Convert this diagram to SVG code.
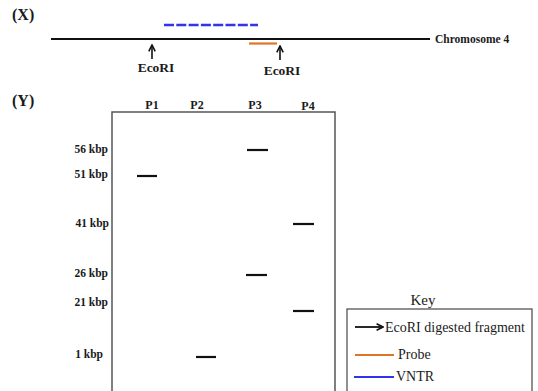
<svg xmlns="http://www.w3.org/2000/svg" width="538" height="391" viewBox="0 0 538 391">
<defs>
<style>
.b{font-family:"Liberation Serif","Times New Roman",serif;font-weight:bold;fill:#1a1a1a}
.n{font-family:"Liberation Serif","Times New Roman",serif;fill:#1a1a1a}
.band{stroke:#111;stroke-width:2.2}
</style>
<marker id="ah" viewBox="0 0 10 10" refX="9" refY="5" markerWidth="8" markerHeight="8" orient="auto" markerUnits="userSpaceOnUse">
<path d="M1,1 L9,5 L1,9" fill="none" stroke="#111" stroke-width="2"/>
</marker>
</defs>
<rect width="538" height="391" fill="#fff"/>
<g id="panel-x">
<text class="b" x="12" y="20" font-size="16">(X)</text>
<line id="chromosome" x1="51" y1="39" x2="430" y2="39" stroke="#111" stroke-width="2"/>
<text class="b" x="435" y="43" font-size="11.5">Chromosome 4</text>
<line id="vntr" x1="164" y1="25" x2="258" y2="25" stroke="#3333ee" stroke-width="2.5" stroke-dasharray="10,2.3"/>
<line id="probe" x1="249" y1="43.5" x2="277" y2="43.5" stroke="#e07428" stroke-width="2.2"/>
</g>
<g id="connectors">
<line x1="152" y1="59" x2="152" y2="45" stroke="#111" stroke-width="1.6" marker-end="url(#ah)"/>
<line x1="280" y1="60" x2="280" y2="46" stroke="#111" stroke-width="1.6" marker-end="url(#ah)"/>
</g>
<g id="ecori1"><text class="b" x="156" y="72" font-size="13.5" text-anchor="middle">EcoRI</text></g>
<g id="ecori2"><text class="b" x="282" y="75" font-size="13.5" text-anchor="middle">EcoRI</text></g>
<g id="panel-y">
<text class="b" x="12" y="106" font-size="16">(Y)</text>
<rect id="gel" x="112" y="112" width="223" height="290" fill="none" stroke="#555" stroke-width="1.5"/>
<g font-size="12" text-anchor="middle">
<text class="b" x="152" y="109">P1</text>
<text class="b" x="197" y="109">P2</text>
<text class="b" x="255" y="109">P3</text>
<text class="b" x="308" y="110">P4</text>
</g>
<g font-size="11.5" text-anchor="end">
<text class="b" x="108" y="153">56 kbp</text>
<text class="b" x="108" y="178">51 kbp</text>
<text class="b" x="109" y="227">41 kbp</text>
<text class="b" x="108" y="277">26 kbp</text>
<text class="b" x="108" y="306">21 kbp</text>
<text class="b" x="103" y="358">1 kbp</text>
</g>
<line class="band" x1="247" y1="150" x2="268" y2="150"/>
<line class="band" x1="137" y1="176" x2="157" y2="176"/>
<line class="band" x1="293" y1="224" x2="314" y2="224"/>
<line class="band" x1="246" y1="275" x2="267" y2="275"/>
<line class="band" x1="293" y1="311" x2="314" y2="311"/>
<line class="band" x1="196" y1="357" x2="216" y2="357"/>
</g>
<g id="key">
<text class="n" x="423" y="305" font-size="15" text-anchor="middle">Key</text>
<rect x="347" y="309" width="185" height="100" fill="none" stroke="#555" stroke-width="1.3"/>
<line x1="355" y1="327" x2="383" y2="327" stroke="#111" stroke-width="1.8" marker-end="url(#ah)"/>
<text class="n" x="385" y="332" font-size="14">EcoRI digested fragment</text>
<line x1="355" y1="355" x2="394" y2="355" stroke="#e07428" stroke-width="2"/>
<text class="n" x="398" y="359" font-size="14">Probe</text>
<line x1="354" y1="377" x2="394" y2="377" stroke="#3333ee" stroke-width="2"/>
<text class="n" x="396" y="381" font-size="14">VNTR</text>
</g>
</svg>
